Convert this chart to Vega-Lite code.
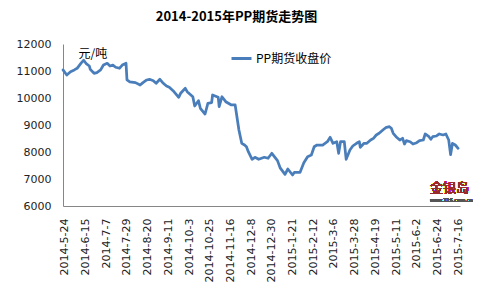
{
  "$schema": "https://vega.github.io/schema/vega-lite/v6.json",
  "width": 397,
  "height": 162,
  "autosize": {"type": "none"},
  "padding": {"left": 63, "top": 44, "right": 28, "bottom": 90},
  "background": "white",
  "title": {
    "text": "2014-2015年PP期货走势图",
    "font": "Noto Sans CJK SC",
    "fontSize": 13,
    "fontWeight": "bold",
    "color": "#000000",
    "anchor": "middle",
    "dx": -25,
    "offset": 14
  },
  "data": {
    "values": [
      {"date": "2014-05-22", "price": 11040},
      {"date": "2014-05-26", "price": 10850},
      {"date": "2014-05-30", "price": 10975},
      {"date": "2014-06-03", "price": 11040},
      {"date": "2014-06-06", "price": 11100},
      {"date": "2014-06-10", "price": 11285},
      {"date": "2014-06-13", "price": 11400},
      {"date": "2014-06-16", "price": 11260},
      {"date": "2014-06-19", "price": 11185},
      {"date": "2014-06-20", "price": 11060},
      {"date": "2014-06-24", "price": 10915},
      {"date": "2014-06-27", "price": 10940},
      {"date": "2014-07-01", "price": 11040},
      {"date": "2014-07-04", "price": 11220},
      {"date": "2014-07-08", "price": 11285},
      {"date": "2014-07-11", "price": 11185},
      {"date": "2014-07-14", "price": 11220},
      {"date": "2014-07-17", "price": 11140},
      {"date": "2014-07-21", "price": 11100},
      {"date": "2014-07-24", "price": 11220},
      {"date": "2014-07-28", "price": 11285},
      {"date": "2014-07-29", "price": 10670},
      {"date": "2014-08-01", "price": 10600},
      {"date": "2014-08-07", "price": 10570},
      {"date": "2014-08-12", "price": 10480},
      {"date": "2014-08-15", "price": 10570},
      {"date": "2014-08-19", "price": 10667},
      {"date": "2014-08-22", "price": 10692},
      {"date": "2014-08-26", "price": 10641},
      {"date": "2014-08-29", "price": 10544},
      {"date": "2014-09-02", "price": 10692},
      {"date": "2014-09-05", "price": 10567},
      {"date": "2014-09-09", "price": 10444},
      {"date": "2014-09-12", "price": 10396},
      {"date": "2014-09-16", "price": 10270},
      {"date": "2014-09-22", "price": 10026},
      {"date": "2014-09-24", "price": 10174},
      {"date": "2014-09-29", "price": 10359},
      {"date": "2014-10-01", "price": 10234},
      {"date": "2014-10-07", "price": 10048},
      {"date": "2014-10-09", "price": 9704},
      {"date": "2014-10-13", "price": 9900},
      {"date": "2014-10-15", "price": 9619},
      {"date": "2014-10-20", "price": 9407},
      {"date": "2014-10-23", "price": 9804},
      {"date": "2014-10-27", "price": 9826},
      {"date": "2014-10-28", "price": 10111},
      {"date": "2014-11-03", "price": 10026},
      {"date": "2014-11-04", "price": 9678},
      {"date": "2014-11-07", "price": 10048},
      {"date": "2014-11-11", "price": 9863},
      {"date": "2014-11-17", "price": 9741},
      {"date": "2014-11-21", "price": 9741},
      {"date": "2014-11-25", "price": 8815},
      {"date": "2014-11-28", "price": 8322},
      {"date": "2014-12-01", "price": 8259},
      {"date": "2014-12-03", "price": 8196},
      {"date": "2014-12-05", "price": 8011},
      {"date": "2014-12-09", "price": 7730},
      {"date": "2014-12-12", "price": 7804},
      {"date": "2014-12-16", "price": 7730},
      {"date": "2014-12-22", "price": 7804},
      {"date": "2014-12-26", "price": 7767},
      {"date": "2014-12-30", "price": 7952},
      {"date": "2015-01-05", "price": 7680},
      {"date": "2015-01-08", "price": 7400},
      {"date": "2015-01-13", "price": 7170},
      {"date": "2015-01-16", "price": 7370},
      {"date": "2015-01-21", "price": 7148},
      {"date": "2015-01-23", "price": 7250},
      {"date": "2015-01-29", "price": 7250},
      {"date": "2015-02-02", "price": 7600},
      {"date": "2015-02-06", "price": 7826},
      {"date": "2015-02-10", "price": 7889},
      {"date": "2015-02-13", "price": 8196},
      {"date": "2015-02-16", "price": 8259},
      {"date": "2015-02-22", "price": 8259},
      {"date": "2015-02-27", "price": 8381},
      {"date": "2015-03-02", "price": 8544},
      {"date": "2015-03-05", "price": 8322},
      {"date": "2015-03-09", "price": 8381},
      {"date": "2015-03-11", "price": 7952},
      {"date": "2015-03-13", "price": 8381},
      {"date": "2015-03-17", "price": 8381},
      {"date": "2015-03-19", "price": 7730},
      {"date": "2015-03-23", "price": 8074},
      {"date": "2015-03-26", "price": 8222},
      {"date": "2015-03-30", "price": 8322},
      {"date": "2015-04-02", "price": 8381},
      {"date": "2015-04-03", "price": 8174},
      {"date": "2015-04-07", "price": 8322},
      {"date": "2015-04-10", "price": 8322},
      {"date": "2015-04-14", "price": 8444},
      {"date": "2015-04-17", "price": 8507},
      {"date": "2015-04-20", "price": 8630},
      {"date": "2015-04-23", "price": 8693},
      {"date": "2015-04-27", "price": 8815},
      {"date": "2015-04-30", "price": 8900},
      {"date": "2015-05-04", "price": 8937},
      {"date": "2015-05-06", "price": 8878},
      {"date": "2015-05-08", "price": 8693},
      {"date": "2015-05-11", "price": 8567},
      {"date": "2015-05-15", "price": 8444},
      {"date": "2015-05-18", "price": 8507},
      {"date": "2015-05-20", "price": 8296},
      {"date": "2015-05-22", "price": 8419},
      {"date": "2015-05-26", "price": 8381},
      {"date": "2015-05-29", "price": 8296},
      {"date": "2015-06-02", "price": 8344},
      {"date": "2015-06-05", "price": 8419},
      {"date": "2015-06-09", "price": 8444},
      {"date": "2015-06-11", "price": 8667},
      {"date": "2015-06-15", "price": 8567},
      {"date": "2015-06-17", "price": 8470},
      {"date": "2015-06-19", "price": 8567},
      {"date": "2015-06-23", "price": 8593},
      {"date": "2015-06-26", "price": 8667},
      {"date": "2015-06-30", "price": 8630},
      {"date": "2015-07-03", "price": 8667},
      {"date": "2015-07-06", "price": 8444},
      {"date": "2015-07-08", "price": 7900},
      {"date": "2015-07-10", "price": 8322},
      {"date": "2015-07-13", "price": 8259},
      {"date": "2015-07-16", "price": 8137}
    ]
  },
  "layer": [
    {
      "mark": {"type": "line", "strokeWidth": 2.75, "strokeJoin": "round", "strokeCap": "round"},
      "encoding": {
        "x": {
          "field": "date",
          "type": "temporal",
          "scale": {
            "type": "utc",
            "domain": [
              {"year": 2014, "month": 5, "date": 22, "utc": true},
              {"year": 2015, "month": 7, "date": 18, "utc": true}
            ]
          },
          "axis": {
            "title": null,
            "format": "%Y-%-m-%-d",
            "labelAngle": -90,
            "labelOverlap": false,
            "labelBound": false,
            "tickCount": 40,
            "values": [
              {"year": 2014, "month": 5, "date": 24, "utc": true},
              {"year": 2014, "month": 6, "date": 15, "utc": true},
              {"year": 2014, "month": 7, "date": 7, "utc": true},
              {"year": 2014, "month": 7, "date": 29, "utc": true},
              {"year": 2014, "month": 8, "date": 20, "utc": true},
              {"year": 2014, "month": 9, "date": 11, "utc": true},
              {"year": 2014, "month": 10, "date": 3, "utc": true},
              {"year": 2014, "month": 10, "date": 25, "utc": true},
              {"year": 2014, "month": 11, "date": 16, "utc": true},
              {"year": 2014, "month": 12, "date": 8, "utc": true},
              {"year": 2014, "month": 12, "date": 30, "utc": true},
              {"year": 2015, "month": 1, "date": 21, "utc": true},
              {"year": 2015, "month": 2, "date": 12, "utc": true},
              {"year": 2015, "month": 3, "date": 6, "utc": true},
              {"year": 2015, "month": 3, "date": 28, "utc": true},
              {"year": 2015, "month": 4, "date": 19, "utc": true},
              {"year": 2015, "month": 5, "date": 11, "utc": true},
              {"year": 2015, "month": 6, "date": 2, "utc": true},
              {"year": 2015, "month": 6, "date": 24, "utc": true},
              {"year": 2015, "month": 7, "date": 16, "utc": true}
            ]
          }
        },
        "y": {
          "field": "price",
          "type": "quantitative",
          "scale": {"domain": [6000, 12000], "nice": false, "zero": false},
          "axis": {
            "title": "元/吨",
            "format": "d",
            "labelOverlap": false,
            "labelBound": false,
            "tickCount": 20,
            "values": [6000, 7000, 8000, 9000, 10000, 11000, 12000],
            "titleAngle": 0,
            "titleAlign": "left",
            "titleBaseline": "middle",
            "titleX": 15,
            "titleY": 9,
            "titleFont": "Noto Sans CJK SC",
            "titleFontSize": 12,
            "titleFontWeight": "normal",
            "titleColor": "#000000"
          }
        },
        "color": {
          "datum": "PP期货收盘价",
          "type": "nominal",
          "scale": {"range": ["#4a7ebb"]},
          "legend": {
            "title": null,
            "orient": "none",
            "legendX": 167,
            "legendY": 3,
            "symbolType": "stroke",
            "symbolSize": 400,
            "symbolStrokeWidth": 3,
            "labelFont": "Noto Sans CJK SC",
            "labelFontSize": 12,
            "labelColor": "#000000",
            "labelOffset": 3
          }
        }
      }
    },
    {
      "mark": {"type": "text", "align": "left", "baseline": "middle", "font": "Noto Sans CJK SC", "fontSize": 13, "fontWeight": "normal", "color": "#9b2a2a"},
      "encoding": {
        "x": {"datum": {"year": 2015, "month": 6, "date": 16, "utc": true}, "type": "temporal"},
        "y": {"datum": 6680, "type": "quantitative"},
        "text": {"value": "金银岛"}
      }
    },
    {
      "mark": {"type": "text", "align": "left", "baseline": "middle", "font": "DejaVu Sans", "fontSize": 5, "color": "#555555"},
      "encoding": {
        "x": {"datum": {"year": 2015, "month": 6, "date": 16, "utc": true}, "type": "temporal"},
        "y": {"datum": 6230, "type": "quantitative"},
        "text": {"value": "www.315.com.cn"}
      }
    }
  ],
  "config": {
    "view": {"stroke": null},
    "axis": {
      "grid": false,
      "ticks": false,
      "tickSize": 0,
      "labelOverlap": false,
      "labelBound": false,
      "domainColor": "#868686",
      "domainWidth": 1,
      "labelFont": "DejaVu Sans",
      "labelFontSize": 11,
      "labelColor": "#222222",
      "labelPadding": 12
    }
  }
}
